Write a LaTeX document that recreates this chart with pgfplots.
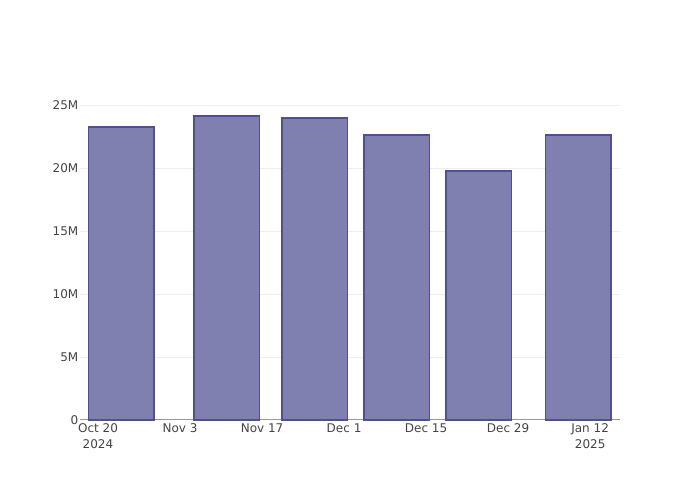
\documentclass[border=0pt]{standalone}
\usepackage{pgfplots}
\pgfplotsset{compat=1.18}
\usepackage{fontspec}
\setmainfont{DejaVu Sans}
\definecolor{txt}{HTML}{444444}
\definecolor{barfill}{RGB}{127,127,176}
\definecolor{baredge}{RGB}{80,80,145}
\definecolor{gridc}{HTML}{EEEEEE}
\definecolor{axc}{HTML}{999999}
\begin{document}
\begin{tikzpicture}[x=1bp,y=1bp]
\useasboundingbox (0,0) rectangle (700,500);
\begin{axis}[
  at={(80bp,80bp)}, anchor=south west,
  scale only axis, width=540bp, height=320bp,
  xmin=-3.07, xmax=89.1, ymin=0, ymax=25.4,
  axis x line*=bottom,
  axis y line*=left,
  x axis line style={draw=axc, line width=1bp, -},
  y axis line style={draw=none, -},
  ytick={0,5,10,15,20,25},
  yticklabels={0,5M,10M,15M,20M,25M},
  yticklabel style={font=\fontsize{12bp}{14bp}\selectfont, text=txt, inner sep=0pt, xshift=-1.5bp},
  xtick={0,14,28,42,56,70,84},
  xticklabels={{Oct 20\\2024},{Nov 3},{Nov 17},{Dec 1},{Dec 15},{Dec 29},{Jan 12\\2025}},
  xticklabel style={align=center, font=\fontsize{12bp}{15.5bp}\selectfont, text=txt, yshift=-0.5bp},
  tick style={draw=none},
  major tick length=0pt,
  ymajorgrids=true,
  grid style={draw=gridc, line width=1bp},
  clip=false,
]
\addplot[ybar, bar width=11.2, fill=barfill, draw=baredge, line width=1.6bp] coordinates {
  (4,23.25) (22,24.13) (37,23.97) (51,22.62) (65,19.76) (82,22.62)
};
\end{axis}
\end{tikzpicture}
\end{document}
